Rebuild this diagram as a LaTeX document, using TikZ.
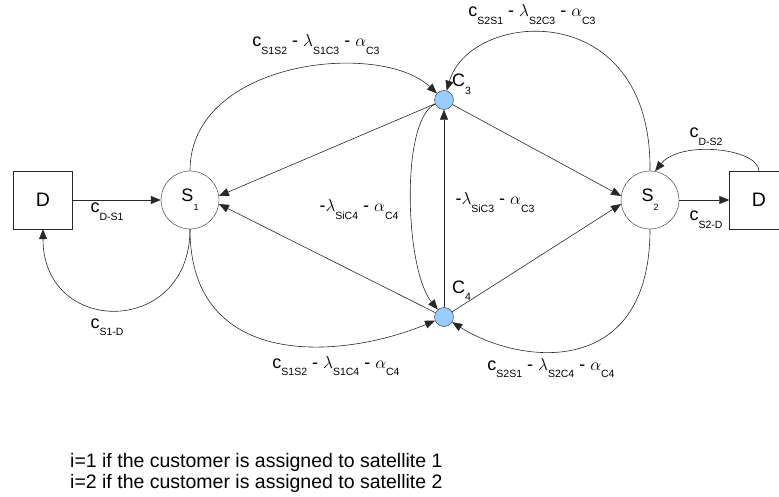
\documentclass[tikz,border=0pt]{standalone}
\usepackage{fontspec}
\setmainfont{Liberation Sans}
\usetikzlibrary{arrows.meta}
\definecolor{custblue}{RGB}{153,204,255}
\definecolor{linegray}{RGB}{40,40,40}
\newcommand\lsub[1]{\raisebox{-7.5pt}{\fontsize{10.5}{12}\selectfont #1}}
\newcommand\nsub[1]{\raisebox{-9pt}{\fontsize{9}{10}\selectfont #1}}
\begin{document}
\begin{tikzpicture}[x=1pt,y=-1pt,
  lab/.style={font=\fontsize{18}{20}\selectfont, inner sep=0pt, anchor=base},
  sat/.style={circle, draw=linegray, minimum size=58pt, inner sep=0pt, font=\fontsize{18}{20}\selectfont},
  depot/.style={draw=linegray, minimum width=59pt, minimum height=58pt, inner sep=0pt, font=\fontsize{19.5}{21}\selectfont},
  cust/.style={circle, draw=linegray, fill=custblue, minimum size=19pt, inner sep=0pt},
  arr/.style={draw=linegray, -{Triangle[length=10pt,width=8pt]}, line width=0.6pt},
  note/.style={font=\fontsize{19.5}{21}\selectfont, inner sep=0pt, anchor=base west},
  ]
\useasboundingbox (0,0) rectangle (779,497);
\node[depot] (D1) at (43,200) {D};
\node[sat] (S1) at (190,200) {S\nsub{1}};
\node[cust] (C3) at (444,100) {};
\node[cust] (C4) at (444,317) {};
\node[sat] (S2) at (650,200) {S\nsub{2}};
\node[depot] (D2) at (759,200) {D};

\draw[arr] (D1) -- (S1);
\draw[arr] (S1.south) .. controls (190,337) and (43,337) .. (D1.south);
\draw[arr] (S1.north) .. controls (190,60) and (380,40) .. (C3);
\draw[arr] (C3) -- (S1.8);
\draw[arr] (C4) -- (S1.-8);
\draw[arr] (S1.south) .. controls (190,370) and (340,360) .. (C4);
\draw[arr] (C4) -- (C3);
\draw[arr] (C3) .. controls (400,120) and (405,270) .. (C4);
\draw[arr] (C3) -- (S2.172);
\draw[arr] (C4) -- (S2.188);
\draw[arr] (S2.north) .. controls (652,-5) and (470,10) .. (C3);
\draw[arr] (S2.south) .. controls (650,380) and (520,365) .. (C4);
\draw[arr] (S2) -- (D2);
\draw[arr] (D2.north) .. controls (758,148) and (680,140) .. (S2.80);

\node[lab] (l1) at (316,47) {c\lsub{S1S2} - $\lambda$\lsub{S1C3} - $\alpha$\lsub{C3}};
\node[lab] (l2) at (532,17) {c\lsub{S2S1} - $\lambda$\lsub{S2C3} - $\alpha$\lsub{C3}};
\node[lab] (l3) at (107,213) {c\lsub{D-S1}};
\node[lab] (l4) at (107,328) {c\lsub{S1-D}};
\node[lab, anchor=base west] (l5) at (452,87) {C\lsub{3}};
\node[lab, anchor=base west] (l6) at (452,293) {C\lsub{4}};
\node[lab] (l7) at (495,205) {-$\lambda$\lsub{SiC3} - $\alpha$\lsub{C3}};
\node[lab] (l8) at (359,212) {-$\lambda$\lsub{SiC4} - $\alpha$\lsub{C4}};
\node[lab] (l9) at (336,368) {c\lsub{S1S2} - $\lambda$\lsub{S1C4} - $\alpha$\lsub{C4}};
\node[lab] (l10) at (551,370) {c\lsub{S2S1} - $\lambda$\lsub{S2C4} - $\alpha$\lsub{C4}};
\node[lab] (l11) at (706,221) {c\lsub{S2-D}};
\node[lab] (l12) at (706,138) {c\lsub{D-S2}};

\node[note] (n1) at (70,467) {i=1 if the customer is assigned to satellite 1};
\node[note] (n2) at (70,488) {i=2 if the customer is assigned to satellite 2};
\end{tikzpicture}
\end{document}
